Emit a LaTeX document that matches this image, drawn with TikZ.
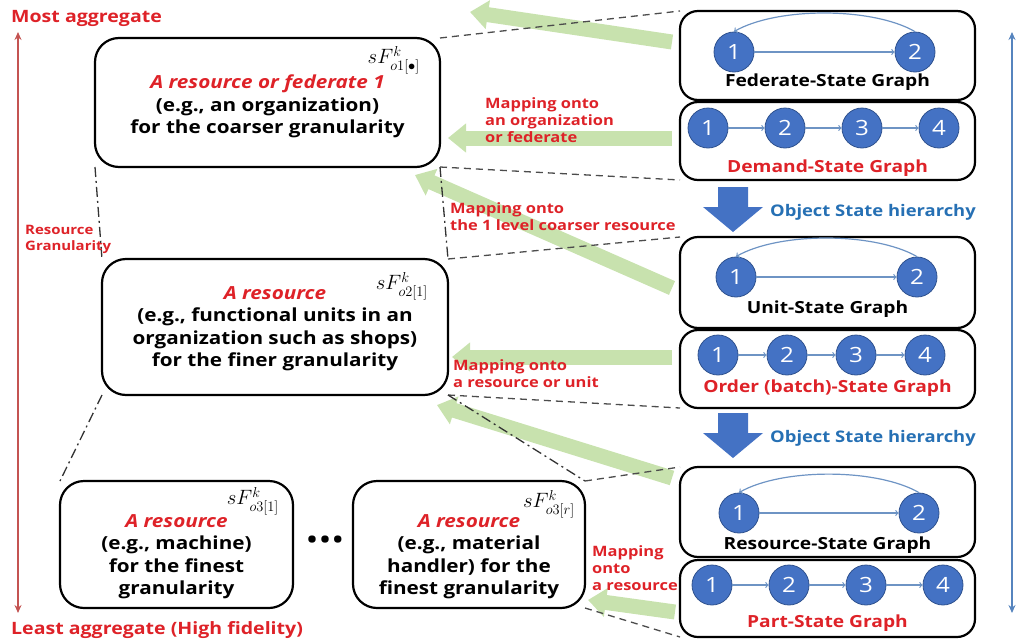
\documentclass[tikz,border=0pt]{standalone}
\usepackage[no-math]{fontspec}
\setmainfont{Open Sans}[FakeStretch=1.15]
\usepackage{amsmath}
\usepackage{amssymb}
\usepackage{tikz}
\usepackage{xcolor}
\usetikzlibrary{arrows, arrows.meta, positioning}

\definecolor{aggred}{RGB}{222,34,40}
\definecolor{axisred}{RGB}{196,84,82}
\definecolor{axisblue}{RGB}{86,132,190}
\definecolor{hierblue}{RGB}{38,112,180}
\definecolor{statefill}{RGB}{68,114,196}
\definecolor{stateline}{RGB}{47,82,143}
\definecolor{edgeblue}{RGB}{110,148,196}
\definecolor{mapgreen}{RGB}{200,226,174}

\tikzstyle{resbox}=[draw=black, line width=2.2pt, rounded corners=24pt, outer sep=0pt]
\tikzstyle{graphbox}=[draw=black, line width=2.2pt, rounded corners=18pt, outer sep=0pt, minimum width=295pt]
\tikzstyle{restext}=[align=center, font=\fontsize{18}{22.5}\selectfont\bfseries]
\tikzstyle{reslabel}=[anchor=north east, inner sep=0pt, font=\fontsize{21}{22}\selectfont]
\tikzstyle{state}=[circle, fill=statefill, draw=stateline, line width=0.8pt, minimum size=40pt, inner sep=0pt, text=white, font=\fontsize{21}{21}\selectfont]
\tikzstyle{edge}=[draw=edgeblue, line width=1.2pt, ->]
\tikzstyle{graphname}=[font=\fontsize{16.7}{18}\selectfont\bfseries]
\tikzstyle{maparrow}=[draw=mapgreen, line width=15pt, -{Triangle[width=28pt,length=18pt]}]
\tikzstyle{maptext}=[align=left, anchor=west, inner sep=0pt, text=aggred, font=\fontsize{14.3}{17}\selectfont\bfseries]
\tikzstyle{aggtext}=[anchor=west, inner sep=0pt, text=aggred, font=\fontsize{17}{20}\selectfont\bfseries]
\tikzstyle{hiertext}=[anchor=west, inner sep=0pt, text=hierblue, font=\fontsize{16}{18}\selectfont\bfseries]
\tikzstyle{zoomline}=[draw=black!70, line width=1.3pt, dash pattern=on 7pt off 5pt]
\tikzstyle{levelline}=[draw=black!80, line width=1.3pt, dash pattern=on 10pt off 4pt on 2pt off 4pt]

\begin{document}
\begin{tikzpicture}[x=1pt, y=-1pt, node distance=77pt, >=to]
    \useasboundingbox (0,0) rectangle (1018,643);

    % resources, coarse to fine
    \node[resbox, minimum width=345pt, minimum height=129pt] (fed) at (267.5,102.5) {};
    \node[resbox, minimum width=346pt, minimum height=136pt] (unit) at (275,327) {};
    \node[resbox, minimum width=233pt, minimum height=127pt] (mach) at (176.5,544.5) {};
    \node[resbox, minimum width=232pt, minimum height=127pt] (mhand) at (469,544.5) {};

    \node[restext] (fedt) at ([yshift=-4pt]fed.center) {\textcolor{aggred}{\itshape A resource or federate 1}\\(e.g., an organization)\\for the coarser granularity};
    \node[restext] (unitt) at ([yshift=-1.5pt]unit.center) {\textcolor{aggred}{\itshape A resource}\\(e.g., functional units in an\\organization such as shops)\\for the finer granularity};
    \node[restext] (macht) at ([yshift=-12pt]mach.center) {\textcolor{aggred}{\itshape A resource}\\(e.g., machine)\\for the finest\\granularity};
    \node[restext] (mhandt) at ([yshift=-12pt]mhand.center) {\textcolor{aggred}{\itshape A resource}\\(e.g., material\\handler) for the\\finest granularity};

    \node[reslabel] (feds) at ([xshift=-20pt,yshift=-8pt]fed.north east) {$sF^{k}_{o1[\bullet]}$};
    \node[reslabel] (units) at ([xshift=-20pt,yshift=-13pt]unit.north east) {$sF^{k}_{o2[1]}$};
    \node[reslabel] (machs) at ([xshift=-14pt,yshift=-6pt]mach.north east) {$sF^{k}_{o3[1]}$};
    \node[reslabel] (mhands) at ([xshift=-10pt,yshift=-9pt]mhand.north east) {$sF^{k}_{o3[r]}$};
    \node[font=\fontsize{30}{30}\selectfont] (dots) at (325,543) {\textbullet\textbullet\textbullet};

    % object state graphs
    \node[graphbox, minimum height=89pt] (fsg) at (827.5,55.5) {};
    \node[graphbox, minimum height=78pt, below=2pt of fsg] (dsg) {};
    \node[graphbox, minimum height=91pt] (usg) at (827.5,282.5) {};
    \node[graphbox, minimum height=78pt, below=2pt of usg] (obg) {};
    \node[graphbox, minimum height=90pt] (rsg) at (827.5,512) {};
    \node[graphbox, minimum height=77pt, below=3pt of rsg] (psg) {};

    \node[graphname] (fsgl) at ([yshift=18pt]fsg.south) {Federate-State Graph};
    \node[graphname, text=aggred] (dsgl) at ([yshift=12pt]dsg.south) {Demand-State Graph};
    \node[graphname] (usgl) at ([yshift=19pt]usg.south) {Unit-State Graph};
    \node[graphname, text=aggred] (obgl) at ([yshift=20pt]obg.south) {Order (batch)-State Graph};
    \node[graphname] (rsgl) at ([yshift=12pt]rsg.south) {Resource-State Graph};
    \node[graphname, text=aggred] (psgl) at ([yshift=14pt]psg.south) {Part-State Graph};

    \node[state] (f1) at (734,52) {1};
    \node[state, right of=f1, node distance=181pt] (f2) {2};
    \node[state] (d1) at (708,128) {1};
    \node[state, right of=d1] (d2) {2};
    \node[state, right of=d2] (d3) {3};
    \node[state, right of=d3] (d4) {4};
    \node[state] (u1) at (736,277) {1};
    \node[state, right of=u1, node distance=181pt] (u2) {2};
    \node[state] (o1) at (718,355) {1};
    \node[state, right of=o1, node distance=69pt] (o2) {2};
    \node[state, right of=o2, node distance=69pt] (o3) {3};
    \node[state, right of=o3, node distance=69pt] (o4) {4};
    \node[state] (r1) at (739,513) {1};
    \node[state, right of=r1, node distance=180pt] (r2) {2};
    \node[state] (p1) at (712,585) {1};
    \node[state, right of=p1] (p2) {2};
    \node[state, right of=p2] (p3) {3};
    \node[state, right of=p3] (p4) {4};

    \foreach \a/\b in {f1/f2,u1/u2,r1/r2,d1/d2,d2/d3,d3/d4,o1/o2,o2/o3,o3/o4,p1/p2,p2/p3,p3/p4}
        \draw[edge] (\a) -- (\b);
    \foreach \n in {f,u,r}
        \draw[edge] (\n2.north) to[out=150,in=30,looseness=0.7] (\n1.north);

    % mapping arrows
    \draw[maparrow] ([xshift=-8pt,yshift=13.5pt]fsg.west) -- ([xshift=30pt,yshift=26pt]fed.north east);
    \draw[maparrow] ([xshift=-8pt,yshift=3pt]dsg.west) -- ([xshift=8pt,yshift=-35.5pt]fed.east);
    \draw[maparrow] ([xshift=-8pt,yshift=-5.5pt]usg.west) -- ([xshift=-25pt,yshift=-8pt]fed.south east);
    \draw[maparrow] ([xshift=-8pt,yshift=12pt]obg.west) -- ([xshift=4pt,yshift=-30pt]unit.east);
    \draw[maparrow] ([xshift=-8pt,yshift=34pt]rsg.west) -- ([xshift=-11pt,yshift=-10pt]unit.south east);
    \draw[maparrow] ([xshift=-5pt,yshift=-13.5pt]psg.west) -- ([xshift=3pt,yshift=8pt]mhand.south east);

    \draw[zoomline] (fed.north east) -- (fsg.north west);
    \draw[zoomline] (fed.south east) -- (dsg.south west);
    \draw[zoomline] (unit.north east) -- (usg.north west);
    \draw[zoomline] (unit.south east) -- (obg.south west);
    \draw[zoomline] (mhand.north east) -- (rsg.north west);
    \draw[zoomline] (mhand.south east) -- (psg.south west);
    \draw[levelline] (fed.south west) -- (unit.north west);
    \draw[levelline] (fed.south east) -- (unit.north east);
    \draw[levelline] (unit.south west) -- (mach.north west);
    \draw[levelline] (unit.south east) -- (mhand.north east);

    \node[maptext] (map1) at (485,120) {Mapping onto\\an organization\\or federate};
    \node[maptext] (map2) at (450,217) {Mapping onto\\the 1 level coarser resource};
    \node[maptext] (map3) at (453,373.5) {Mapping onto\\a resource or unit};
    \node[maptext] (map4) at (592,568) {Mapping\\onto\\a resource};

    % state hierarchy
    \foreach \y in {187,413}
        \fill[statefill] (718,\y) -- (748,\y) -- (748,\y+20) -- (763,\y+20) -- (733,\y+45) -- (703,\y+20) -- (718,\y+20) -- cycle;
    \node[hiertext] (hier1) at (770,212) {Object State hierarchy};
    \node[hiertext] (hier2) at (770,438) {Object State hierarchy};

    % granularity axes
    \node[aggtext] (most) at (11,18) {Most aggregate};
    \node[aggtext] (least) at (11,630) {Least aggregate (High fidelity)};
    \node[maptext, font=\fontsize{13}{16}\selectfont\bfseries] (gran) at (25,239) {Resource\\Granularity};
    \coordinate (gtop) at (18,32);
    \coordinate (gbot) at (18,613);
    \coordinate (otop) at (1012,32);
    \coordinate (obot) at (1012,613);
    \draw[axisred, line width=2.5pt, {Stealth[length=8pt,width=7pt]}-{Stealth[length=8pt,width=7pt]}] (gtop) -- (gbot);
    \draw[axisblue, line width=2.5pt, {Stealth[length=8pt,width=7pt]}-{Stealth[length=8pt,width=7pt]}] (otop) -- (obot);
\end{tikzpicture}
\end{document}
